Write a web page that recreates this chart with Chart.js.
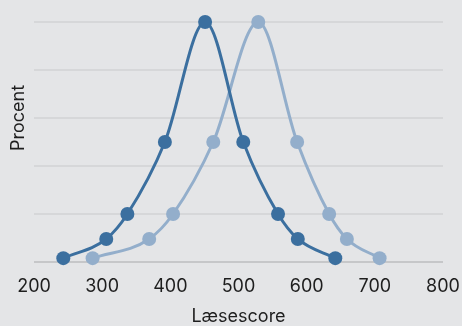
<!DOCTYPE html>
<html>
<head>
<meta charset="utf-8">
<script src="https://cdn.jsdelivr.net/npm/chart.js@4"></script>
<style>
  html, body { margin: 0; padding: 0; background: #e4e5e7; }
  #wrap { width: 462px; height: 326px; }
</style>
</head>
<body>
<div id="wrap"><canvas id="score-chart"></canvas></div>
<script>
const scoresA = [243, 306, 337, 392, 451, 507, 558, 587, 642]
const percentA = [0.4, 2.4, 5, 12.5, 25, 12.5, 5, 2.4, 0.4]
const scoresB = [286, 369, 404, 463, 529, 586, 633, 659, 707]
const percentB = [0.4, 2.4, 5, 12.5, 25, 12.5, 5, 2.4, 0.4]
const xTicks = [200, 300, 400, 500, 600, 700, 800]

const darkBlue = '#3b6f9f'
const lightBlue = '#93aecb'

const toPoints = (xs, ys) => xs.map((x, i) => ({ x: x, y: ys[i] }))

const data = {
    datasets: [
        {
            label: 'A',
            data: toPoints(scoresA, percentA),
            borderColor: darkBlue,
            backgroundColor: darkBlue,
        },
        {
            label: 'B',
            data: toPoints(scoresB, percentB),
            borderColor: lightBlue,
            backgroundColor: lightBlue,
        },
    ]
};

// the y title sits a bit above the middle of the axis in the original
const shiftYTitle = {
    id: 'shiftYTitle',
    afterLayout(chart) {
        const y = chart.scales.y
        y.bottom = y.getPixelForValue(5)
    }
}

const config = {
    type: 'line',
    data: data,
    plugins: [shiftYTitle],
    options: {
        responsive: true,
        maintainAspectRatio: false,
        animation: false,
        layout: { padding: { top: 22, right: 0, left: 0, bottom: 0 } },
        elements: {
            line: { borderWidth: 3, cubicInterpolationMode: 'monotone' },
            point: { radius: 7, hoverRadius: 7, borderWidth: 0 },
        },
        clip: false,
        plugins: {
            legend: { display: false },
            tooltip: { enabled: false },
        },
        scales: {
            x: {
                type: 'linear',
                min: 200,
                max: 800,
                afterBuildTicks: (axis) => { axis.ticks = xTicks.map(v => ({ value: v })) },
                afterFit: (axis) => {
                    axis.height = 64
                    axis.paddingLeft = 0
                    axis.paddingRight = 19
                },
                grid: { display: false },
                border: { display: false },
                ticks: {
                    padding: 6,
                    color: '#1e1e1e',
                    font: { family: 'Inter', size: 18 },
                    maxRotation: 0,
                },
                title: {
                    display: true,
                    text: 'Læsescore',
                    color: '#1e1e1e',
                    font: { family: 'Inter', size: 18, lineHeight: 1 },
                    padding: { top: 4, bottom: 0 },
                },
            },
            y: {
                min: 0,
                max: 25,
                afterFit: (axis) => { axis.width = 34 },
                ticks: { display: false, stepSize: 5 },
                grid: {
                    drawTicks: false,
                    lineWidth: 2,
                    color: (c) => c.tick && c.tick.value === 0 ? '#c6c7c9' : '#d6d7d9',
                },
                border: { display: false },
                title: {
                    display: true,
                    text: 'Procent',
                    color: '#1e1e1e',
                    font: { family: 'Inter', size: 18 },
                    padding: { top: 8, bottom: 0 },
                },
            },
        }
    },
};

new Chart(document.getElementById('score-chart'), config);
</script>
</body>
</html>
